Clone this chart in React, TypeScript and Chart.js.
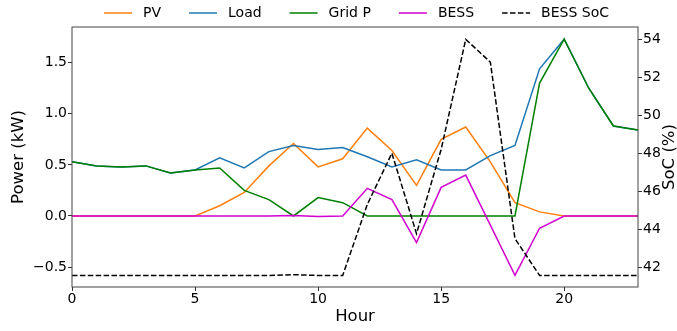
import React, { useEffect, useRef } from "react";
import { Chart, registerables } from "chart.js";

Chart.register(...registerables);

const hours = [0, 1, 2, 3, 4, 5, 6, 7, 8, 9, 10, 11, 12, 13, 14, 15, 16, 17, 18, 19, 20, 21, 22, 23];
const pv = [0, 0, 0, 0, 0, 0, 0.1, 0.23, 0.49, 0.71, 0.48, 0.56, 0.86, 0.64, 0.3, 0.75, 0.87, 0.53, 0.13, 0.04, 0, 0, 0, 0];
const load = [0.53, 0.49, 0.48, 0.49, 0.42, 0.45, 0.57, 0.47, 0.63, 0.69, 0.65, 0.67, 0.58, 0.48, 0.55, 0.45, 0.45, 0.59, 0.69, 1.44, 1.73, 1.25, 0.88, 0.84];
const gridP = [0.53, 0.49, 0.48, 0.49, 0.42, 0.45, 0.47, 0.25, 0.16, 0, 0.18, 0.13, 0, 0, 0, 0, 0, 0, 0, 1.3, 1.73, 1.25, 0.88, 0.84];
const bess = [0, 0, 0, 0, 0, 0, 0, 0, 0, 0.005, -0.005, 0, 0.27, 0.16, -0.26, 0.28, 0.4, -0.09, -0.58, -0.12, 0, 0, 0, 0];
const soc = [41.56, 41.56, 41.56, 41.56, 41.56, 41.56, 41.56, 41.56, 41.56, 41.6, 41.56, 41.56, 45.3, 48.0, 43.76, 48.2, 54.0, 52.8, 43.5, 41.56, 41.56, 41.56, 41.56, 41.56];

const xTicks = [0, 5, 10, 15, 20];
const powerTicks = [-0.5, 0, 0.5, 1.0, 1.5];
const socTicks = [42, 44, 46, 48, 50, 52, 54];
const socTitle = "SoC (%)";

const FONT = '"DejaVu Sans", sans-serif';

const pts = (arr: number[]) => arr.map((v, i) => ({ x: hours[i], y: v }));

const legendPlugin = {
  id: "mplLegend",
  afterDraw(chart: any) {
    const ctx = chart.ctx;
    ctx.save();
    ctx.font = `14px ${FONT}`;
    ctx.textBaseline = "middle";
    ctx.textAlign = "left";
    let x = 104;
    const y = 13;
    chart.data.datasets.forEach((ds: any) => {
      ctx.strokeStyle = ds.borderColor;
      ctx.lineWidth = 1.5;
      ctx.setLineDash(ds.borderDash || []);
      ctx.beginPath();
      ctx.moveTo(x, y);
      ctx.lineTo(x + 28, y);
      ctx.stroke();
      ctx.setLineDash([]);
      ctx.fillStyle = "#000";
      ctx.fillText(ds.label, x + 39, y);
      x += 39 + ctx.measureText(ds.label).width + 28;
    });
    // right axis title, reading bottom to top
    const area = chart.chartArea;
    ctx.save();
    ctx.translate(670, (area.top + area.bottom) / 2);
    ctx.rotate(-Math.PI / 2);
    ctx.font = `16.5px ${FONT}`;
    ctx.textAlign = "center";
    ctx.textBaseline = "middle";
    ctx.fillStyle = "#000";
    ctx.fillText(socTitle, 0, 0);
    ctx.restore();
    ctx.restore();
  },
};

const framePlugin = {
  id: "frame",
  afterDatasetsDraw(chart: any) {
    const { ctx, chartArea } = chart;
    ctx.save();
    ctx.strokeStyle = "#444";
    ctx.lineWidth = 1;
    ctx.strokeRect(chartArea.left, chartArea.top, chartArea.right - chartArea.left, chartArea.bottom - chartArea.top);
    ctx.restore();
  },
};

export default function App() {
  const ref = useRef<HTMLCanvasElement | null>(null);

  useEffect(() => {
    document.body.style.margin = "0";
    if (!ref.current) return;
    const tickFont = { family: FONT, size: 14 };
    const titleFont = { family: FONT, size: 16.5, lineHeight: 1 };
    const gridOpts = { drawOnChartArea: false, drawTicks: true, tickLength: 4, color: "#333" };
    const chart = new Chart(ref.current, {
      type: "line",
      data: {
        datasets: [
          { label: "PV", data: pts(pv), borderColor: "#ff7f0e", yAxisID: "y", order: 4 },
          { label: "Load", data: pts(load), borderColor: "#1f77b4", yAxisID: "y", order: 3 },
          { label: "Grid P", data: pts(gridP), borderColor: "#008000", yAxisID: "y", order: 2 },
          { label: "BESS", data: pts(bess), borderColor: "#d000d0", yAxisID: "y", order: 1 },
          { label: "BESS SoC", data: pts(soc), borderColor: "#000000", borderDash: [5.5, 2.4], yAxisID: "y1", order: 0 },
        ] as any,
      },
      options: {
        animation: false,
        responsive: false,
        devicePixelRatio: 1,
        layout: { padding: { top: 27, left: 0, right: 0, bottom: 0 } },
        elements: {
          line: { borderWidth: 1.5, tension: 0, fill: false },
          point: { radius: 0, hoverRadius: 0 },
        },
        plugins: { legend: { display: false }, tooltip: { enabled: false } },
        scales: {
          x: {
            type: "linear",
            min: 0,
            max: 23,
            afterBuildTicks: (s: any) => { s.ticks = xTicks.map((v) => ({ value: v })); },
            afterFit: (s: any) => { s.height = 44; },
            ticks: { font: tickFont, color: "#000", padding: 0, maxRotation: 0, callback: (v: any) => String(v) },
            grid: gridOpts,
            border: { display: false },
            title: { display: true, text: "Hour", font: titleFont, color: "#000", padding: { top: 0, bottom: 6 } },
          },
          y: {
            type: "linear",
            position: "left",
            min: -0.695,
            max: 1.849,
            afterBuildTicks: (s: any) => { s.ticks = powerTicks.map((v) => ({ value: v })); },
            afterFit: (s: any) => { s.width = 72; },
            ticks: { font: tickFont, color: "#000", padding: 1, callback: (v: any) => Number(v).toFixed(1).replace("-", "\u2212") },
            grid: gridOpts,
            border: { display: false },
            title: { display: true, text: "Power (kW)", font: titleFont, color: "#000", padding: { top: 10, bottom: 0 } },
          },
          y1: {
            type: "linear",
            position: "right",
            min: 40.95,
            max: 54.65,
            afterBuildTicks: (s: any) => { s.ticks = socTicks.map((v) => ({ value: v })); },
            afterFit: (s: any) => { s.width = 39; },
            ticks: { font: tickFont, color: "#000", padding: 1, callback: (v: any) => String(v) },
            grid: gridOpts,
            border: { display: false },
            title: { display: false },
          },
        },
      } as any,
      plugins: [legendPlugin, framePlugin],
    });
    return () => chart.destroy();
  }, []);

  return (
    <div style={{ position: "absolute", left: 0, top: 0, width: 677, height: 331 }}>
      <canvas ref={ref} width={677} height={331} style={{ display: "block" }} />
    </div>
  );
}
